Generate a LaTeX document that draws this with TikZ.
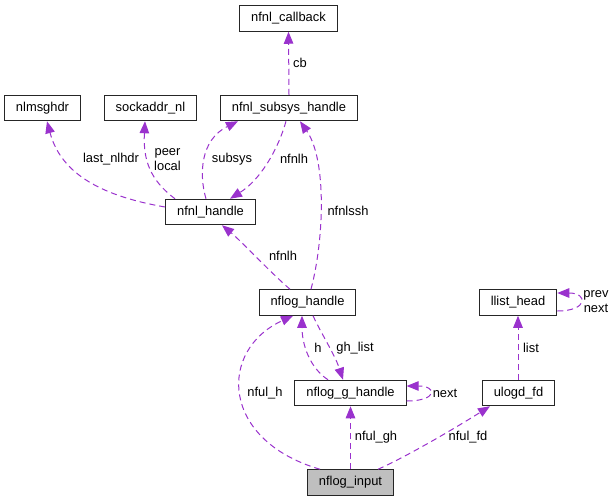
\documentclass[tikz,border=0pt]{standalone}
\usepackage{fontspec}
\setmainfont{Liberation Sans}
\usetikzlibrary{arrows.meta}

\definecolor{relcol}{HTML}{9A32CD}
\definecolor{boxgray}{HTML}{BFBFBF}

\tikzset{
  cls/.style = {draw = black!85, line width = 1pt, inner xsep = 11.5pt,
                inner ysep = 0pt, minimum height = 25.5pt,
                font = \fontsize{12.9pt}{14pt}\selectfont},
  rel/.style = {draw = relcol, line width = 1pt, dash pattern = on 6pt off 4pt,
                -{Triangle[length = 12pt, width = 9.5pt]}},
  lbl/.style = {inner sep = 0pt, align = center,
                font = \fontsize{12.9pt}{14.5pt}\selectfont}
}

\begin{document}
\begin{tikzpicture}[x = 1pt, y = -1pt]
      \useasboundingbox (0, 0) rectangle (616, 501);
      % classes
      \node[cls] (nfnl_callback) at (288.5, 18.5) {nfnl\_callback};
      \node[cls] (nlmsghdr) at (42.5, 108) {nlmsghdr};
      \node[cls] (sockaddr_nl) at (150.5, 108) {sockaddr\_nl};
      \node[cls] (nfnl_subsys_handle) at (289, 108) {nfnl\_subsys\_handle};
      \node[cls] (nfnl_handle) at (210.5, 212) {nfnl\_handle};
      \node[cls] (nflog_handle) at (307.5, 302.5) {nflog\_handle};
      \node[cls] (llist_head) at (518, 302.5) {llist\_head};
      \node[cls] (nflog_g_handle) at (350.5, 393) {nflog\_g\_handle};
      \node[cls] (ulogd_fd) at (518.5, 393) {ulogd\_fd};
      \node[cls, fill = boxgray] (nflog_input) at (350.5, 482.5) {nflog\_input};

      % usage relations
      \draw[rel] (nfnl_subsys_handle.north) -- (nfnl_callback.south);
      \draw[rel] ([yshift = 5pt]nfnl_handle.west)
            .. controls (95, 195) and (60, 170) .. ([xshift = 4.5pt]nlmsghdr.south);
      \draw[rel] ([xshift = -35.5pt]nfnl_handle.north)
            .. controls (150, 180) and (143, 160) .. ([xshift = -5.5pt]sockaddr_nl.south);
      \draw[rel] ([xshift = -4.5pt]nfnl_handle.north)
            .. controls (199, 175) and (200, 140) .. ([xshift = -51pt]nfnl_subsys_handle.south);
      \draw[rel] ([xshift = -3pt]nfnl_subsys_handle.south)
            .. controls (278, 150) and (260, 180) .. ([xshift = 19.5pt]nfnl_handle.north);
      \draw[rel] ([xshift = 3.5pt]nflog_handle.north)
            .. controls (324, 240) and (327, 160) .. ([xshift = 11pt]nfnl_subsys_handle.south);
      \draw[rel] ([xshift = -17.5pt]nflog_handle.north)
            .. controls (270, 272) and (240, 240) .. ([xshift = 11.5pt]nfnl_handle.south);
      \draw[rel] ([xshift = 5.5pt]nflog_handle.south)
            .. controls (322, 335) and (335, 355) .. ([xshift = -7.5pt]nflog_g_handle.north);
      \draw[rel] ([xshift = -22.5pt]nflog_g_handle.north)
            .. controls (310, 368) and (302, 345) .. ([xshift = -5.5pt]nflog_handle.south);
      \draw[rel] ([yshift = -8.5pt]llist_head.east)
            .. controls +(31, 0) and +(31, 0) .. ([yshift = 9.5pt]llist_head.east);
      \draw[rel] ([yshift = -8pt]nflog_g_handle.east)
            .. controls +(31, 0) and +(31, 0) .. ([yshift = 7pt]nflog_g_handle.east);
      \draw[rel] (ulogd_fd.north -| llist_head.south) -- (llist_head.south);
      \draw[rel] ([xshift = -30.5pt]nflog_input.north)
            .. controls (220, 440) and (218, 350) .. ([xshift = -14.5pt]nflog_handle.south);
      \draw[rel] (nflog_input.north) -- (nflog_g_handle.south);
      \draw[rel] ([xshift = 27.5pt]nflog_input.north)
            .. controls (410, 455) and (460, 425) .. ([xshift = -28.5pt]ulogd_fd.south);

      % labels
      \node[lbl] (l_cb) at (300, 63) {cb};
      \node[lbl] (l_last) at (111, 159) {last\_nlhdr};
      \node[lbl] (l_peer) at (167.5, 159.5) {peer\\local};
      \node[lbl] (l_subsys) at (232, 159) {subsys};
      \node[lbl] (l_nfnlh) at (294, 159) {nfnlh};
      \node[lbl] (l_nfnlssh) at (348, 211) {nfnlssh};
      \node[lbl] (l_nfnlh2) at (283, 256) {nfnlh};
      \node[lbl] (l_h) at (318, 348) {h};
      \node[lbl] (l_gh_list) at (355, 348) {gh\_list};
      \node[lbl] (l_prev) at (596, 301.5) {prev\\next};
      \node[lbl] (l_next) at (445, 393) {next};
      \node[lbl] (l_list) at (531, 348) {list};
      \node[lbl] (l_nful_h) at (265, 393) {nful\_h};
      \node[lbl] (l_nful_gh) at (376, 437) {nful\_gh};
      \node[lbl] (l_nful_fd) at (468, 437) {nful\_fd};
    \end{tikzpicture}
\end{document}
